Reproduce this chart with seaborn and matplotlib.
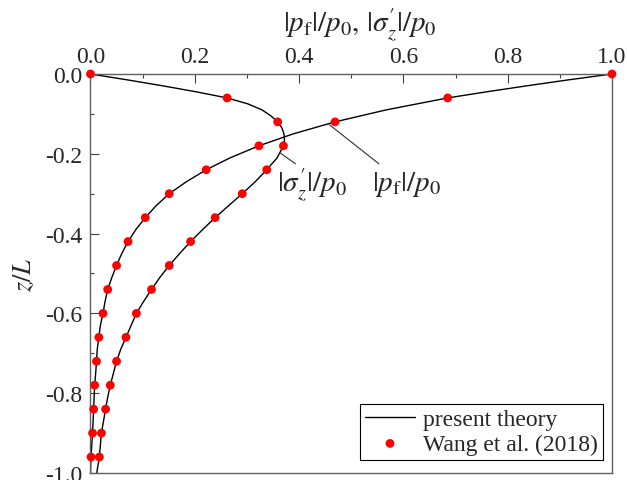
import numpy as np
import pandas as pd
import matplotlib
matplotlib.use("Agg")
import matplotlib.pyplot as plt
from matplotlib.ticker import MultipleLocator, FuncFormatter
import seaborn as sns

# theory curves (depth z/L, normalised value)
theory_z_sig = [0.0, -0.015, -0.03, -0.045, -0.06, -0.075, -0.09, -0.105, -0.12, -0.135,
                -0.15, -0.165, -0.18, -0.21, -0.24, -0.27, -0.30, -0.33, -0.36, -0.39,
                -0.42, -0.45, -0.48, -0.51, -0.54, -0.57, -0.60, -0.63, -0.66, -0.69,
                -0.72, -0.75, -0.78, -0.81, -0.84, -0.87, -0.90, -0.93, -0.96, -1.0]
theory_sig = [0.0, 0.072, 0.140, 0.204, 0.262, 0.302, 0.329, 0.346, 0.359, 0.367,
              0.371, 0.372, 0.370, 0.358, 0.338, 0.316, 0.291, 0.265, 0.239, 0.215,
              0.192, 0.171, 0.151, 0.133, 0.117, 0.102, 0.088, 0.078, 0.068, 0.058,
              0.050, 0.044, 0.038, 0.033, 0.029, 0.025, 0.021, 0.019, 0.017, 0.012]

theory_z_pf = [0.0, -0.015, -0.03, -0.045, -0.06, -0.09, -0.12, -0.15, -0.18, -0.21,
               -0.24, -0.27, -0.30, -0.33, -0.36, -0.39, -0.42, -0.45, -0.48, -0.51,
               -0.54, -0.57, -0.60, -0.63, -0.66, -0.69, -0.72, -0.75, -0.78, -0.84,
               -0.90, -0.96, -1.0]
theory_pf = [1.0, 0.915, 0.835, 0.758, 0.685, 0.567, 0.469, 0.389, 0.323, 0.268,
             0.222, 0.184, 0.151, 0.126, 0.105, 0.087, 0.072, 0.060, 0.050, 0.041,
             0.033, 0.028, 0.024, 0.019, 0.016, 0.013, 0.0115, 0.010, 0.008, 0.006,
             0.004, 0.001, 0.0]

# Wang et al. (2018) points
wang_z = [0.0, -0.06, -0.12, -0.18, -0.24, -0.30, -0.36, -0.42, -0.48, -0.54,
          -0.60, -0.66, -0.72, -0.78, -0.84, -0.90, -0.96]
wang_sig = [0.0, 0.262, 0.359, 0.370, 0.338, 0.291, 0.239, 0.192, 0.151, 0.117,
            0.088, 0.068, 0.050, 0.038, 0.029, 0.021, 0.017]
wang_pf = [1.0, 0.685, 0.469, 0.323, 0.222, 0.151, 0.105, 0.072, 0.050, 0.033,
           0.024, 0.016, 0.0115, 0.008, 0.006, 0.004, 0.001]

sns.set_theme(style="ticks")
plt.rcParams['font.family'] = ['Liberation Serif', 'DejaVu Serif']
plt.rcParams['mathtext.fontset'] = 'stix'
plt.rcParams['axes.unicode_minus'] = False

fig = plt.figure(figsize=(6.27, 4.81), dpi=100)
ax = fig.add_axes([0.1443, 0.0146, 0.8317, 0.8295])

sig_df = pd.DataFrame({'z': theory_z_sig, 'v': theory_sig})
pf_df = pd.DataFrame({'z': theory_z_pf, 'v': theory_pf})
sns.lineplot(data=sig_df, x='v', y='z', orient='y', sort=False, color='black',
             lw=1.0, ax=ax, label='present theory')
sns.lineplot(data=pf_df, x='v', y='z', orient='y', sort=False, color='black',
             lw=1.0, ax=ax)

pts = pd.DataFrame({'z': wang_z + wang_z, 'v': wang_sig + wang_pf})
sns.scatterplot(data=pts, x='v', y='z', color='#ff0000', s=40, edgecolor='none',
                ax=ax, label='Wang et al. (2018)', zorder=3, clip_on=False)

ax.set_xlim(0, 1.0)
ax.set_ylim(-1.0, 0.0)
ax.xaxis.tick_top()
ax.xaxis.set_label_position('top')
ax.xaxis.set_major_locator(MultipleLocator(0.2))
ax.xaxis.set_minor_locator(MultipleLocator(0.1))
ax.yaxis.set_major_locator(MultipleLocator(0.2))
ax.yaxis.set_minor_locator(MultipleLocator(0.1))
fmt = FuncFormatter(lambda v, p: f'{v:.1f}'.replace('-0.0', '0.0'))
ax.xaxis.set_major_formatter(fmt)
ax.yaxis.set_major_formatter(fmt)
ax.tick_params(which='major', direction='in', length=6.5, width=0.8, color='#404040',
               labelsize=17, pad=6)
ax.tick_params(axis='x', which='major', pad=5)
ax.tick_params(which='minor', direction='in', length=3, width=0.8, color='#404040')
ax.tick_params(axis='x', which='both', top=True, bottom=False)
ax.tick_params(axis='y', which='both', left=True, right=False)

for sp in ax.spines.values():
    sp.set_color('#606060')
    sp.set_linewidth(1.0)

ax.set_xlabel(r'$|p_{\mathrm{f}}|/p_0,\,|\sigma_z^{\prime}|/p_0$', fontsize=21)
ax.xaxis.set_label_coords(0.517, 1.108)
ax.set_ylabel(r'$z/L$', fontsize=19, labelpad=6)

# leader lines and curve labels
ax.annotate('', xy=(0.364, -0.198), xytext=(0.393, -0.225),
            arrowprops=dict(arrowstyle='-', color='#303030', lw=0.8, shrinkA=0, shrinkB=0))
ax.annotate('', xy=(0.458, -0.127), xytext=(0.553, -0.225),
            arrowprops=dict(arrowstyle='-', color='#303030', lw=0.8, shrinkA=0, shrinkB=0))
ax.text(0.358, -0.275, r'$|\sigma_z^{\prime}|/p_0$', fontsize=21, ha='left', va='center')
ax.text(0.540, -0.275, r'$|p_{\mathrm{f}}|/p_0$', fontsize=21, ha='left', va='center')

leg = ax.legend(loc='lower right', fontsize=17, frameon=True, fancybox=False,
                edgecolor='black', framealpha=1, handlelength=2.1, handletextpad=0.35,
                borderpad=0.22, labelspacing=0.12, borderaxespad=0.0,
                bbox_to_anchor=(0.983, 0.033))
leg.get_frame().set_linewidth(0.8)

fig.savefig('out.png', dpi=100)
